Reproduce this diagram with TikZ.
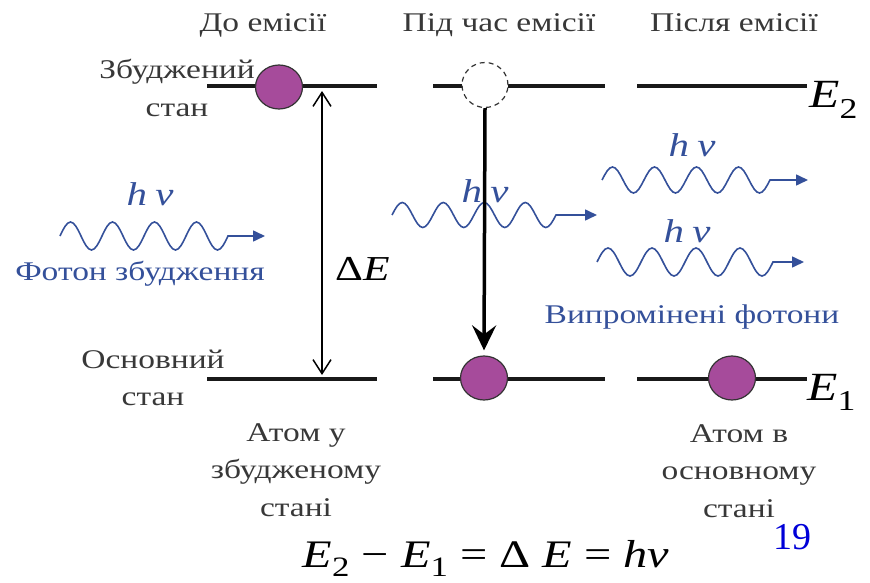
\documentclass[tikz,border=0pt]{standalone}
\usepackage{fontspec}
\setmainfont{Liberation Serif}[FakeStretch=1.24]
\newfontfamily\plainserif{Liberation Serif}
\usetikzlibrary{arrows.meta,positioning,shapes.geometric}
\definecolor{atompurple}{HTML}{A64B9B}
\definecolor{photonblue}{HTML}{34509A}
\definecolor{textgray}{HTML}{383838}
\definecolor{pageblue}{HTML}{0000D8}
\newcommand{\idx}[1]{\raisebox{-0.25em}{\scalebox{0.72}{#1}}}

\begin{document}
\begin{tikzpicture}[x=1pt,y=-1pt,
  lvl/.style={line width=4.5pt,draw=black!90},
  atom/.style={ellipse,draw=black!80,line width=1.2pt,fill=atompurple,
               minimum width=47pt,minimum height=44pt,inner sep=0pt},
  ghost/.style={ellipse,draw=black!80,line width=1.2pt,dash pattern=on 5pt off 4pt,
                fill=white,minimum width=46pt,minimum height=45pt,inner sep=0pt},
  txt/.style={text=textgray,font=\fontsize{27}{37.5}\selectfont,align=center},
  bluetxt/.style={text=photonblue,font=\fontsize{27}{37.5}\selectfont,anchor=base},
  hnu/.style={text=photonblue,font=\fontsize{33}{36}\selectfont\itshape,anchor=base},
  sym/.style={font=\fontsize{40}{44}\selectfont,inner sep=0pt,anchor=base west},
  photon/.style={draw=photonblue,line width=1.6pt,-{Triangle[length=12pt,width=11pt]}},
  gap/.style={line width=1.5pt,
              {Straight Barb[length=14pt,width=18pt]}-{Straight Barb[length=14pt,width=18pt]}},
  emit/.style={line width=3.5pt,-{Stealth[length=25pt,width=24pt,inset=9pt]},shorten >=5pt}
]
  \useasboundingbox (0,0) rectangle (870,583);

  % energy levels
  \foreach \a/\b in {207/377,433/605,637/807} {
    \draw[lvl] (\a,86) -- (\b,86);
    \draw[lvl] (\a,379) -- (\b,379);
  }

  % photons
  \coordinate (inwave) at (60,236);
  \coordinate (midwave) at (392,215);
  \coordinate (outwave1) at (602,180);
  \coordinate (outwave2) at (597,262);
  \draw[photon] (inwave) foreach \k in {1,...,4} {sin ++(10.5,-14) cos ++(10.5,14) sin ++(10.5,14) cos ++(10.5,-14)} -- ++(37,0);
  \draw[photon] (midwave) foreach \k in {1,...,4} {sin ++(10.25,-12.5) cos ++(10.25,12.5) sin ++(10.25,12.5) cos ++(10.25,-12.5)} -- ++(41,0);
  \draw[photon] (outwave1) foreach \k in {1,...,4} {sin ++(10.5,-13) cos ++(10.5,13) sin ++(10.5,13) cos ++(10.5,-13)} -- ++(38,0);
  \draw[photon] (outwave2) foreach \k in {1,...,4} {sin ++(11,-14) cos ++(11,14) sin ++(11,14) cos ++(11,-14)} -- ++(31,0);

  \node[hnu] (hv1) at (150,205) {h\hspace{0.25em}ν};
  \node[hnu] (hv2) at (485,202) {h\hspace{0.25em}ν};
  \node[hnu] (hv3) at (692,157) {h\hspace{0.25em}ν};
  \node[hnu] (hv4) at (687,242) {h\hspace{0.25em}ν};

  % atoms
  \node[atom] (before) at (279,87) {};
  \node[ghost] (during) at (485,85) {};
  \node[atom] (after1) at (484,378) {};
  \node[atom] (after2) at (732,378) {};

  \coordinate (gaptop) at (322,91);
  \coordinate (gapbot) at (322,375);
  \draw[gap] (gaptop) -- (gapbot);
  \draw[emit] (during.south) -- (after1.north);

  % labels
  \node[txt,anchor=base] (title1) at (263,32) {До емісії};
  \node[txt,anchor=base] (title2) at (499,32) {Під час емісії};
  \node[txt,anchor=base] (title3) at (734,32) {Після емісії};
  \node[txt] (excited) at (177,88) {Збуджений\\стан};
  \node[txt] (ground) at (153,378) {Основний\\стан};
  \node[txt] (capbefore) at (296,470) {Атом у\\збудженому\\стані};
  \node[txt] (capafter) at (739,471) {Атом в\\основному\\стані};
  \node[bluetxt] (exciting) at (140,280) {Фотон збудження};
  \node[bluetxt] (emitted) at (692,323) {Випромінені фотони};

  \node[sym,font=\fontsize{35}{40}\selectfont] (delta) at (335,280) {Δ\textit{E}};
  \node[sym] (e2) at (809,108) {\textit{E}\idx{2}};
  \node[sym] (e1) at (807,400) {\textit{E}\idx{1}};
  \node[text=pageblue,font=\plainserif\fontsize{38}{42}\selectfont,anchor=base] (page) at (792,549) {19};
  \node[font=\fontsize{39}{44}\selectfont,anchor=base] (law) at (486,567)
    {\textit{E}\idx{2} − \textit{E}\idx{1} = Δ \textit{E} = \textit{hν}};
\end{tikzpicture}
\end{document}
